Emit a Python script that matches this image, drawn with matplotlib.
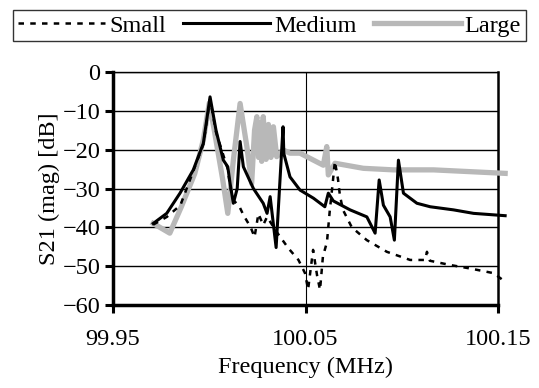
import matplotlib
matplotlib.use("Agg")
import matplotlib.pyplot as plt

plt.rcParams['font.family'] = ['Liberation Serif', 'DejaVu Serif']

freq_small = [99.9709, 99.978, 99.985, 99.9917, 99.9969, 100.0004, 100.0035, 100.0096, 100.0108,
              100.0125, 100.0155, 100.0177, 100.0215, 100.0235, 100.0255, 100.028, 100.030,
              100.0347, 100.0411, 100.0463, 100.0497, 100.0513, 100.0539, 100.056, 100.0575,
              100.059, 100.0611, 100.0625, 100.0642, 100.0652, 100.0668, 100.0678, 100.0694,
              100.074, 100.0818, 100.0922, 100.1043, 100.1121, 100.113, 100.1145, 100.1251,
              100.1355, 100.1476, 100.1536]
mag_small = [-39.3, -37.3, -34.3, -25.5, -18.6, -7.0, -15.5, -25.0, -29.5,
             -33.0, -34.5, -36.8, -40.0, -42.5, -36.5, -39.4, -37.3,
             -41.0, -45.4, -48.4, -51.8, -56.0, -45.8, -52.5, -56.1,
             -47.5, -43.8, -36.0, -28.0, -23.0, -27.5, -31.7, -35.5,
             -40.0, -43.3, -46.3, -48.4, -48.4, -46.3, -48.6, -49.7,
             -50.6, -51.8, -54.0]

freq_medium = [99.9709, 99.9779, 99.9848, 99.9917, 99.9969, 100.0004, 100.0035, 100.0073, 100.0096,
               100.0108, 100.0125, 100.0145, 100.016, 100.0177, 100.0229, 100.028, 100.030,
               100.0316, 100.0347, 100.0383, 100.0387, 100.0419, 100.0471, 100.0541, 100.060,
               100.0618, 100.0644, 100.0731, 100.0818, 100.0861, 100.0882, 100.0904, 100.0939,
               100.0961, 100.0982, 100.1008, 100.1078, 100.1147, 100.1268, 100.1372, 100.1536]
mag_medium = [-39.0, -36.4, -31.2, -25.2, -18.4, -6.4, -15.0, -22.7, -24.4,
              -28.7, -33.8, -30.0, -17.9, -24.4, -30.0, -33.8, -36.4,
              -32.1, -45.2, -14.1, -21.0, -27.0, -30.4, -32.5, -34.7,
              -31.2, -33.2, -35.5, -37.3, -41.5, -27.8, -34.3, -37.3,
              -43.3, -22.7, -31.2, -33.8, -34.7, -35.5, -36.4, -37.0]

freq_large = [99.9709, 99.9795, 99.9855, 99.9925, 99.9969, 100.0, 100.0026, 100.007, 100.0096,
              100.0125, 100.016, 100.0195, 100.022, 100.0235, 100.0247, 100.0256, 100.0264,
              100.0272, 100.028, 100.0295, 100.0307, 100.032, 100.0333, 100.035, 100.0385,
              100.0419, 100.0471, 100.0541, 100.0592, 100.061, 100.0618, 100.0653, 100.080,
              100.0956, 100.1164, 100.1536]
mag_large = [-39.0, -41.5, -34.7, -26.1, -17.5, -8.0, -15.0, -27.8, -36.4,
             -22.7, -8.1, -19.2, -28.7, -15.0, -11.5, -22.0, -13.0,
             -23.0, -11.5, -22.5, -13.5, -22.0, -14.1, -21.8, -20.1,
             -20.9, -20.9, -22.7, -24.0, -19.2, -26.5, -23.5, -24.8,
             -25.2, -25.2, -26.1]

fig = plt.figure(figsize=(5.39, 3.88), dpi=100)
ax = fig.add_axes([0.2096, 0.2139, 0.7147, 0.6005])

ax.plot(freq_large, mag_large, color='#b8b8b8', lw=3.8, label='Large', clip_on=False, zorder=3)
ax.plot(freq_small, mag_small, color='black', lw=1.8, ls=(0, (2.2, 2.5)), label='Small',
        clip_on=False, zorder=4)
ax.plot(freq_medium, mag_medium, color='black', lw=2.2, label='Medium', clip_on=False, zorder=5)

ax.set_xlim(99.95, 100.15)
ax.set_ylim(-60, 0)
ax.set_xticks([99.95, 100.05, 100.15])
ax.set_xticklabels(['99.95', '100.05', '100.15'])
ax.set_yticks(range(-60, 1, 10))
ax.grid(axis='y', color='black', lw=1)
ax.axvline(100.05, color='black', lw=0.8)
ax.tick_params(direction='out', length=6, width=2.2, labelsize=17.5, pad=3)
ax.tick_params(axis='x', pad=11)
for side, w in [('left', 2.5), ('bottom', 2.5), ('right', 1.8), ('top', 1.0)]:
    ax.spines[side].set_linewidth(w)

ax.set_xlabel('Frequency (MHz)', fontsize=17.5, labelpad=5)
ax.set_ylabel('S21 (mag) [dB]', fontsize=17.5, labelpad=2)

handles, labels = ax.get_legend_handles_labels()
order = [1, 2, 0]
leg = fig.legend([handles[i] for i in order], [labels[i] for i in order],
                 loc='upper center', bbox_to_anchor=(0.5, 0.975), ncol=3, fontsize=17.5,
                 frameon=True, fancybox=False, edgecolor='black', handlelength=3.6,
                 handletextpad=0.15, columnspacing=0.7, borderpad=0.2, borderaxespad=0)
leg.get_frame().set_linewidth(1.0)

fig.savefig('out.png', dpi=100)
